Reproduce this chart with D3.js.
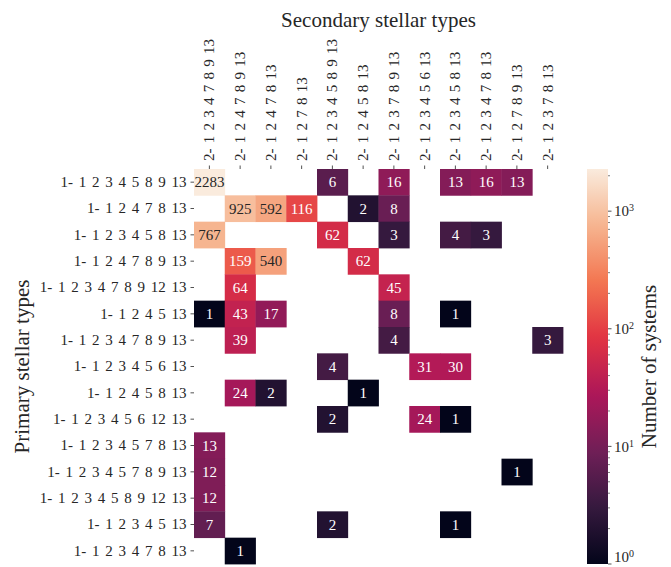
<!DOCTYPE html>
<html>
<head>
<meta charset="utf-8">
<script src="https://cdn.jsdelivr.net/npm/d3@7"></script>
<style>
  #chart text { font-family: 'Liberation Serif', serif !important; }
</style>
</head>
<body style="margin:0;background:#fff">
<svg id="chart" width="671" height="567" style="font-family:'Liberation Serif'"></svg>
<script>
// ---- data ----
const secondaryTypes = [
  "2- 1 2 3 4 7 8 9 13",
  "2- 1 2 4 7 8 9 13",
  "2- 1 2 4 7 8 13",
  "2- 1 2 7 8 13",
  "2- 1 2 3 4 5 8 9 13",
  "2- 1 2 4 5 8 13",
  "2- 1 2 3 7 8 9 13",
  "2- 1 2 3 4 5 6 13",
  "2- 1 2 3 4 5 8 13",
  "2- 1 2 3 4 7 8 13",
  "2- 1 2 7 8 9 13",
  "2- 1 2 3 7 8 13"
];
const primaryTypes = [
  "1- 1 2 3 4 5 8 9 13",
  "1- 1 2 4 7 8 13",
  "1- 1 2 3 4 5 8 13",
  "1- 1 2 4 7 8 9 13",
  "1- 1 2 3 4 7 8 9 12 13",
  "1- 1 2 4 5 13",
  "1- 1 2 3 4 7 8 9 13",
  "1- 1 2 3 4 5 6 13",
  "1- 1 2 4 5 8 13",
  "1- 1 2 3 4 5 6 12 13",
  "1- 1 2 3 4 5 7 8 13",
  "1- 1 2 3 4 5 7 8 9 13",
  "1- 1 2 3 4 5 8 9 12 13",
  "1- 1 2 3 4 5 13",
  "1- 1 2 3 4 7 8 13"
];
// counts: rows = primary, columns = secondary (null = no systems)
const counts = [
  [2283, null, null, null, 6, null, 16, null, 13, 16, 13, null],
  [null, 925, 592, 116, null, 2, 8, null, null, null, null, null],
  [767, null, null, null, 62, null, 3, null, 4, 3, null, null],
  [null, 159, 540, null, null, 62, null, null, null, null, null, null],
  [null, 64, null, null, null, null, 45, null, null, null, null, null],
  [1, 43, 17, null, null, null, 8, null, 1, null, null, null],
  [null, 39, null, null, null, null, 4, null, null, null, null, 3],
  [null, null, null, null, 4, null, null, 31, 30, null, null, null],
  [null, 24, 2, null, null, 1, null, null, null, null, null, null],
  [null, null, null, null, 2, null, null, 24, 1, null, null, null],
  [13, null, null, null, null, null, null, null, null, null, null, null],
  [12, null, null, null, null, null, null, null, null, null, 1, null],
  [12, null, null, null, null, null, null, null, null, null, null, null],
  [7, null, null, null, 2, null, null, null, 1, null, null, null],
  [null, 1, null, null, null, null, null, null, null, null, null, null]
];
const colorbarTicks = [1, 10, 100, 1000];
const colorbarTickLabels = ["0", "1", "2", "3"];

// rocket colormap approximation
const rocketStops = ["#03051a", "#35193e", "#701f57", "#ad1759", "#e13342", "#f37651", "#f6b48f", "#faebdd"];
const rocket = d3.piecewise(d3.interpolateRgb, rocketStops);

const FONT = "'Liberation Serif', serif";
const INK = "#262626";
const svg = d3.select("#chart");
const pL = 194, pR = 563, pT = 169, pB = 564;

function ff(sel) { return sel.style("font-family", FONT, "important"); }

const x = d3.scaleBand().domain(d3.range(secondaryTypes.length)).range([pL, pR]);
const y = d3.scaleBand().domain(d3.range(primaryTypes.length)).range([pT, pB]);
const vmax = d3.max(counts.flat().filter(v => v != null));
const color = d3.scaleSequentialLog(rocket).domain([1, vmax]);

const cells = [];
counts.forEach((row, i) => row.forEach((v, j) => { if (v != null) cells.push({i, j, v}); }));

function lum(c) {
  const rgb = d3.rgb(c);
  const f = u => { u /= 255; return u <= 0.03928 ? u / 12.92 : Math.pow((u + 0.055) / 1.055, 2.4); };
  return 0.2126 * f(rgb.r) + 0.7152 * f(rgb.g) + 0.0722 * f(rgb.b);
}

svg.append("g").selectAll("rect").data(cells).join("rect")
  .attr("x", d => x(d.j)).attr("y", d => y(d.i))
  .attr("width", x.bandwidth() + 0.4).attr("height", y.bandwidth() + 0.4)
  .attr("fill", d => color(d.v));

svg.append("g").selectAll("text").data(cells).join("text")
  .attr("x", d => x(d.j) + x.bandwidth() / 2)
  .attr("y", d => y(d.i) + y.bandwidth() / 2)
  .attr("dy", "0.35em")
  .attr("text-anchor", "middle")
  .attr("font-family", FONT)
  .call(ff)
  .style("font-size", "15px")
  .style("fill", d => lum(color(d.v)) > 0.408 ? INK : "#ffffff")
  .text(d => d.v);

// top axis (secondary)
const xAxis = d3.axisTop(x).tickSize(3.5).tickPadding(3).tickFormat(i => secondaryTypes[i]);
const gx = svg.append("g").attr("transform", `translate(0,${pT})`).call(xAxis);
gx.attr("font-family", FONT);
gx.select(".domain").remove();
gx.selectAll(".tick line").attr("stroke", INK).attr("stroke-width", 0.8);
gx.selectAll(".tick text")
  .attr("transform", "rotate(-90)")
  .attr("x", 8).attr("y", 0).attr("dy", "0.33em")
  .attr("text-anchor", "start")
  .call(ff)
  .style("font-size", "15px").style("word-spacing", "1.5px")
  .attr("fill", INK);

// left axis (primary)
const yAxis = d3.axisLeft(y).tickSize(3.5).tickPadding(4).tickFormat(i => primaryTypes[i]);
const gy = svg.append("g").attr("transform", `translate(${pL},0)`).call(yAxis);
gy.attr("font-family", FONT);
gy.select(".domain").remove();
gy.selectAll(".tick line").attr("stroke", INK).attr("stroke-width", 0.8);
gy.selectAll(".tick text")
  .attr("dy", "0.33em")
  .call(ff)
  .style("font-size", "15px").style("word-spacing", "2px")
  .attr("fill", INK);

// titles
svg.append("text").attr("x", (pL + pR) / 2).attr("y", 27)
  .attr("text-anchor", "middle").call(ff)
  .style("font-size", "21px").attr("fill", INK)
  .text("Secondary stellar types");
svg.append("text").attr("transform", `translate(29,${(pT + pB) / 2}) rotate(-90)`)
  .attr("text-anchor", "middle").call(ff)
  .style("font-size", "21px").attr("fill", INK)
  .text("Primary stellar types");

// colorbar
const cbX = 587, cbW = 21;
const cy = d3.scaleLog().domain([1, vmax]).range([pB, pT]);
const defs = svg.append("defs");
const grad = defs.append("linearGradient").attr("id", "cbgrad")
  .attr("x1", 0).attr("y1", 1).attr("x2", 0).attr("y2", 0);
d3.range(0, 1.0001, 0.02).forEach(t => {
  grad.append("stop").attr("offset", t).attr("stop-color", rocket(t));
});
svg.append("rect").attr("x", cbX).attr("y", pT).attr("width", cbW).attr("height", pB - pT)
  .attr("fill", "url(#cbgrad)");

const minorTicks = [];
[1, 10, 100, 1000].forEach(dec => {
  for (let k = 2; k <= 9; k++) { const v = dec * k; if (v <= vmax) minorTicks.push(v); }
});
const gcb = svg.append("g");
gcb.selectAll("line.minor").data(minorTicks).join("line").attr("class", "minor")
  .attr("x1", cbX + cbW).attr("x2", cbX + cbW + 2)
  .attr("y1", d => cy(d)).attr("y2", d => cy(d))
  .attr("stroke", INK).attr("stroke-width", 0.6);
gcb.selectAll("line.major").data(colorbarTicks).join("line").attr("class", "major")
  .attr("x1", cbX + cbW).attr("x2", cbX + cbW + 3.5)
  .attr("y1", d => cy(d)).attr("y2", d => cy(d))
  .attr("stroke", INK).attr("stroke-width", 0.8);
const lab = gcb.selectAll("text").data(colorbarTicks).join("text")
  .attr("x", cbX + cbW + 6).attr("y", d => Math.min(cy(d), pB - 7)).attr("dy", "0.35em")
  .call(ff).style("font-size", "15px").attr("fill", INK);
lab.append("tspan").text("10");
lab.append("tspan").attr("dy", "-0.5em").style("font-size", "10px").text((d, i) => colorbarTickLabels[i]);

svg.append("text").attr("transform", `translate(656,${(pT + pB) / 2}) rotate(-90)`)
  .attr("text-anchor", "middle").call(ff)
  .style("font-size", "21px").attr("fill", INK)
  .text("Number of systems");
</script>
</body>
</html>
